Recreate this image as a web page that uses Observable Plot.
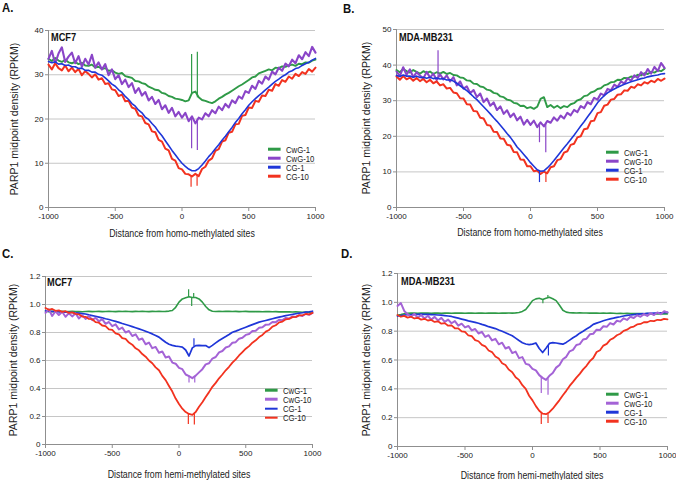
<!DOCTYPE html>
<html><head><meta charset="utf-8">
<script src="https://cdn.jsdelivr.net/npm/d3@7"></script>
<script src="https://cdn.jsdelivr.net/npm/@observablehq/plot@0.6"></script>
<style>
body{margin:0;background:#fff;}
#fig{position:relative;width:676px;height:480px;overflow:hidden;background:#fff;
 font-family:"Liberation Sans",Arial,sans-serif;color:#222;}
.svgbox{position:absolute;width:338px;height:240px;}
.t{position:absolute;white-space:nowrap;line-height:1;transform-origin:0 50%;transform:translate(0,-50%) scaleX(0.84);}
.c{transform-origin:50% 50%;transform:translate(-50%,-50%) scaleX(0.84);}
.letter{font-weight:bold;font-size:13.5px;color:#111;}
.cell{font-weight:bold;font-size:11px;color:#111;}
.xl{font-size:10.5px;color:#222;}
.yl{font-size:10.5px;color:#222;transform-origin:50% 50%;transform:translate(-50%,-50%) rotate(-90deg);}
.leg{position:absolute;font-size:8.6px;color:#222;}
.leg .row{position:absolute;left:0;white-space:nowrap;line-height:1;transform-origin:0 50%;transform:translateY(-50%) scaleX(0.9);}
.leg .sw{display:inline-block;width:14px;height:2.6px;vertical-align:middle;margin-right:6px;position:relative;top:-1px;}
</style>
</head><body>
<div id="fig"></div>
<script>
// ---------- data ----------
const seriesNames = ["CwG-1", "CwG-10", "CG-1", "CG-10"];
const distance = [
-1000,-975,-950,-925,-900,-875,-850,-825,
-800,-775,-750,-725,-700,-675,-650,-625,
-600,-575,-550,-525,-500,-475,-450,-425,
-400,-375,-350,-325,-300,-275,-250,-225,
-200,-175,-150,-125,-100,-75,-50,-25,
0,25,50,75,100,125,150,175,
200,225,250,275,300,325,350,375,
400,425,450,475,500,525,550,575,
600,625,650,675,700,725,750,775,
800,825,850,875,900,925,950,975,
1000];
const xTicks = [-1000, -500, 0, 500, 1000];
const yTicksHomo = [0, 10, 20, 30, 40];
const yTicksHomoB = [0, 10, 20, 30, 40, 50];
const yTicksHemi = [0, 0.2, 0.4, 0.6, 0.8, 1.0, 1.2];

// Panel A: MCF7, homo-methylated
const aCwG1 = [33.6,33.1,33.8,33.2,32.9,33.4,32.8,32.6, 32.9,32.4,32.7,32.1,32.0,32.3,31.6,31.8,
 31.3,31.5,30.9,31.0,30.5,30.2,30.4,29.7, 29.5,29.3,28.6,28.5,28.1,27.9,27.3,27.0,
 26.6,26.5,25.9,25.7,25.2,25.0,24.6,24.5, 24.3,24.0,24.2,25.9,26.2,24.9,24.3,24.1,
 23.8,23.6,24.0,24.6,25.0,25.5,25.9,26.4, 26.9,27.4,27.8,28.3,28.8,29.4,29.6,30.3,
 30.6,30.9,31.2,31.0,31.6,31.5,31.9,31.8, 32.1,32.3,32.0,32.5,32.4,32.8,32.7,33.2, 33.4];
const aCwG10 = [33.6,35.4,32.5,34.8,36.2,32.9,34.1,35.0, 32.6,34.2,31.8,33.6,32.3,34.5,31.6,32.8,
 31.2,32.4,29.9,31.2,29.0,29.9,27.9,28.9, 27.2,28.1,25.9,27.0,25.3,26.1,24.2,25.0,
 23.4,24.3,22.2,23.1,21.4,22.5,20.6,21.6, 20.3,21.4,19.5,20.6,19.0,20.3,19.9,21.3,
 20.6,22.0,21.3,22.8,22.0,23.4,22.6,24.2, 23.6,25.1,24.6,26.3,25.9,27.5,26.8,28.6,
 28.0,29.6,28.9,30.7,30.1,31.6,30.9,32.5, 31.9,33.4,32.6,34.4,33.5,35.1,34.2,36.3, 35.0];
const aCG1 = [33.0,32.7,32.9,32.4,32.5,32.1,32.2,31.8, 31.8,31.4,31.5,31.0,31.0,30.6,30.6,30.1,
 29.9,29.3,28.6,27.9,27.4,26.6,26.0,25.1, 24.4,23.5,22.9,22.0,21.4,20.4,19.9,19.0,
 18.2,17.1,16.2,15.1,14.0,12.9,11.9,10.9, 10.0,9.3,8.7,8.3,8.3,8.8,9.6,10.5,
 11.5,12.3,13.3,14.2,15.2,16.1,17.1,18.1, 19.2,20.1,21.2,22.1,23.1,23.9,24.6,25.3,
 25.9,26.6,27.2,27.9,28.5,29.0,29.6,30.0, 30.6,30.9,31.4,31.6,32.1,32.5,32.8,33.3, 33.7];
const aCG10 = [32.3,31.2,32.6,31.5,31.0,32.1,30.8,31.6, 30.6,31.3,29.9,30.8,30.2,29.4,30.1,28.9,
 29.2,27.9,28.1,26.7,26.5,25.2,25.5,24.0, 24.1,22.6,22.3,20.8,20.6,19.1,18.8,17.2,
 17.0,15.3,14.9,13.3,12.9,11.0,10.6,8.9, 8.6,7.6,7.5,7.0,7.6,7.1,8.7,9.2,
 10.6,11.1,12.8,13.2,14.9,15.2,16.9,17.1, 18.8,18.9,20.7,20.9,22.6,22.5,24.1,23.9,
 25.3,25.2,26.6,26.4,27.9,27.5,28.8,28.4, 29.6,29.1,30.2,29.7,30.6,30.2,31.3,30.7, 31.6];
const aSpikeSeries = ["CwG-1","CwG-1","CwG-10","CwG-10","CG-10","CG-10"];
const aSpikeX  = [72, 115, 72, 115, 68, 113];
const aSpikeY1 = [25.5, 24.8, 20.3, 20.0, 7.2, 7.3];
const aSpikeY2 = [34.6, 35.1, 13.3, 12.9, 4.6, 4.8];

// Panel B: MDA-MB231, homo-methylated
const bCwG1 = [38.6,38.0,38.9,38.3,37.9,38.6,38.1,37.6, 38.3,37.8,38.2,37.5,38.0,37.6,38.1,37.5,
 37.8,37.2,37.1,36.5,36.4,35.7,35.6,34.8, 34.7,34.0,33.8,33.1,32.9,32.2,32.0,31.2,
 31.0,30.3,30.1,29.4,29.2,28.5,28.6,27.9, 28.2,27.7,28.3,30.5,31.0,28.2,28.8,28.0,
 28.6,27.9,28.5,28.2,29.0,29.3,30.1,30.4, 31.3,31.5,32.3,32.6,33.3,33.5,34.3,34.6,
 35.2,35.3,35.9,35.8,36.4,36.3,36.8,36.7, 37.3,37.1,37.7,37.5,38.1,37.9,38.5,38.3, 39.0];
const bCwG10 = [38.2,36.9,39.4,37.3,38.8,36.6,38.0,37.1, 36.2,38.1,36.5,37.6,35.8,37.4,36.0,37.1,
 35.4,36.6,34.3,35.4,33.4,34.0,32.1,33.0, 31.0,32.0,29.6,30.6,28.6,29.5,27.4,28.4,
 26.3,27.3,25.4,26.4,24.5,25.5,23.3,24.6, 23.2,24.4,22.6,23.9,22.8,24.3,23.8,25.3,
 24.4,25.8,25.0,26.6,25.9,27.4,26.8,28.5, 27.9,29.6,29.0,30.8,30.3,32.0,31.5,33.3,
 32.9,34.5,33.9,35.4,34.8,36.3,35.6,37.1, 36.4,38.0,37.1,38.9,37.6,39.5,38.3,40.6, 39.2];
const bCG1 = [37.1,36.8,37.2,36.9,36.9,36.6,36.9,36.5, 36.6,36.3,36.6,36.2,36.4,36.1,36.2,35.8,
 35.9,35.5,34.9,34.2,33.5,32.8,32.0,31.1, 30.3,29.3,28.3,27.3,26.3,25.2,24.2,23.1,
 22.0,20.8,19.7,18.4,17.0,16.0,14.9,13.8, 12.6,11.6,10.6,10.2,10.3,11.1,12.1,13.2,
 14.4,15.6,16.8,17.9,19.1,20.3,21.6,22.9, 24.1,25.4,26.7,28.0,29.4,30.5,31.4,32.2,
 32.8,33.3,33.8,34.2,34.6,35.0,35.3,35.6, 35.9,36.2,36.4,36.7,36.9,37.1,37.2,37.5, 37.6];
const bCG10 = [36.8,35.9,36.9,36.0,36.5,35.6,36.4,35.5, 36.1,35.2,35.9,34.9,35.4,34.3,34.6,33.4,
 33.6,32.3,32.1,30.7,30.6,29.0,28.9,27.1, 27.0,25.2,25.0,23.2,23.0,21.3,21.2,19.4,
 19.3,17.6,17.4,15.6,15.5,13.5,13.4,11.6, 11.6,10.2,10.4,9.4,10.1,9.6,11.3,11.6,
 13.3,13.6,15.4,15.8,17.6,17.9,19.7,20.0, 22.0,22.2,24.2,24.4,26.5,26.8,28.6,28.9,
 30.3,30.5,31.7,31.8,32.9,32.8,33.9,33.6, 34.6,34.3,35.2,34.8,35.6,35.2,36.1,35.6, 36.2];
const bSpikeSeries = ["CwG-10","CwG-10","CwG-10","CG-1","CG-10"];
const bSpikeX  = [-690, 67, 114, 67, 115];
const bSpikeY1 = [36.5, 23.5, 23.5, 10.3, 9.8];
const bSpikeY2 = [44.0, 18.2, 15.4, 7.0, 7.0];

// Panel C: MCF7, hemi-methylated
const cCwG1 = [0.952,0.948,0.951,0.949,0.950,0.952,0.949,0.950, 0.951,0.949,0.950,0.948,0.950,0.951,0.949,0.950,
 0.951,0.949,0.950,0.952,0.950,0.949,0.951,0.950, 0.952,0.950,0.949,0.951,0.950,0.952,0.950,0.949,
 0.951,0.950,0.952,0.950,0.951,0.953,0.957,0.980, 1.017,1.040,1.048,1.056,1.050,1.050,1.040,1.017,
 0.986,0.962,0.952,0.950,0.951,0.950,0.952,0.951, 0.950,0.951,0.949,0.950,0.951,0.949,0.950,0.949,
 0.950,0.948,0.949,0.950,0.948,0.949,0.947,0.948, 0.947,0.948,0.946,0.947,0.946,0.945,0.946,0.945, 0.945];
const cCwG10 = [0.940,0.965,0.918,0.952,0.925,0.948,0.912,0.938, 0.915,0.937,0.900,0.924,0.897,0.918,0.888,0.905,
 0.880,0.896,0.862,0.875,0.845,0.858,0.822,0.835, 0.800,0.811,0.775,0.787,0.748,0.757,0.716,0.728,
 0.688,0.697,0.655,0.664,0.622,0.628,0.585,0.577, 0.547,0.538,0.500,0.488,0.474,0.492,0.515,0.538,
 0.572,0.580,0.614,0.625,0.658,0.668,0.693,0.701, 0.727,0.731,0.756,0.762,0.783,0.789,0.810,0.813,
 0.834,0.838,0.856,0.857,0.875,0.874,0.891,0.888, 0.904,0.900,0.915,0.910,0.924,0.918,0.934,0.926, 0.940];
const cCG1 = [0.955,0.952,0.950,0.951,0.948,0.947,0.946,0.944, 0.943,0.941,0.938,0.935,0.932,0.926,0.921,0.916,
 0.910,0.904,0.898,0.893,0.886,0.879,0.872,0.864, 0.857,0.850,0.842,0.834,0.826,0.818,0.809,0.800,
 0.790,0.779,0.767,0.748,0.730,0.716,0.708,0.703, 0.700,0.696,0.675,0.632,0.690,0.706,0.708,0.706,
 0.707,0.692,0.708,0.726,0.743,0.757,0.771,0.786, 0.802,0.810,0.819,0.829,0.838,0.847,0.856,0.865,
 0.874,0.880,0.886,0.892,0.898,0.904,0.910,0.915, 0.921,0.925,0.929,0.934,0.938,0.941,0.945,0.948, 0.952];
const cCG10 = [0.975,0.962,0.968,0.955,0.958,0.947,0.952,0.940, 0.944,0.933,0.930,0.914,0.912,0.897,0.895,0.874,
 0.870,0.850,0.846,0.823,0.818,0.793,0.786,0.760, 0.754,0.728,0.713,0.687,0.673,0.646,0.627,0.600,
 0.580,0.551,0.530,0.490,0.460,0.418,0.378,0.328, 0.290,0.256,0.232,0.218,0.212,0.232,0.270,0.302,
 0.340,0.374,0.412,0.440,0.473,0.500,0.530,0.555, 0.585,0.608,0.636,0.660,0.684,0.703,0.727,0.744,
 0.767,0.783,0.806,0.818,0.842,0.852,0.872,0.878, 0.894,0.897,0.910,0.912,0.922,0.923,0.932,0.930, 0.940];
const cSpikeSeries = ["CwG-1","CwG-1","CwG-1","CG-1","CwG-10","CwG-10","CG-10","CG-10"];
const cSpikeX  = [72, 95, 110, 112, 75, 118, 70, 115];
const cSpikeY1 = [1.05, 1.05, 1.05, 0.70, 0.49, 0.48, 0.215, 0.215];
const cSpikeY2 = [1.105, 0.985, 1.078, 0.755, 0.44, 0.44, 0.143, 0.140];

// Panel D: MDA-MB231, hemi-methylated
const dCwG1 = [0.910,0.915,0.921,0.924,0.925,0.926,0.924,0.925, 0.926,0.925,0.924,0.926,0.925,0.924,0.926,0.925,
 0.924,0.925,0.926,0.925,0.924,0.926,0.925,0.924, 0.925,0.926,0.924,0.925,0.926,0.925,0.924,0.926,
 0.925,0.926,0.925,0.927,0.930,0.937,0.950,0.980, 1.012,1.024,1.028,1.020,1.028,1.035,1.025,1.012,
 0.980,0.945,0.932,0.928,0.927,0.926,0.927,0.926, 0.926,0.925,0.926,0.925,0.924,0.925,0.924,0.925,
 0.924,0.923,0.924,0.923,0.924,0.922,0.923,0.922, 0.922,0.921,0.922,0.921,0.920,0.921,0.920,0.920, 0.920];
const dCwG10 = [0.975,0.995,0.940,0.918,0.900,0.920,0.893,0.912, 0.888,0.907,0.880,0.899,0.874,0.892,0.865,0.880,
 0.855,0.870,0.838,0.852,0.826,0.836,0.805,0.815, 0.784,0.795,0.760,0.772,0.736,0.747,0.709,0.720,
 0.680,0.690,0.648,0.658,0.613,0.620,0.573,0.567, 0.538,0.528,0.495,0.476,0.462,0.490,0.510,0.547,
 0.566,0.605,0.622,0.660,0.670,0.704,0.710,0.742, 0.748,0.778,0.782,0.810,0.808,0.834,0.830,0.856,
 0.846,0.872,0.866,0.889,0.878,0.900,0.891,0.910, 0.900,0.918,0.906,0.925,0.912,0.930,0.918,0.938, 0.930];
const dCG1 = [0.905,0.908,0.912,0.914,0.915,0.917,0.916,0.918, 0.917,0.916,0.915,0.914,0.912,0.911,0.908,0.905,
 0.902,0.896,0.890,0.884,0.878,0.871,0.866,0.861, 0.855,0.847,0.840,0.831,0.825,0.818,0.808,0.799,
 0.789,0.778,0.768,0.752,0.735,0.720,0.711,0.707, 0.710,0.718,0.680,0.652,0.682,0.715,0.720,0.718,
 0.714,0.710,0.722,0.738,0.754,0.768,0.786,0.800, 0.815,0.829,0.847,0.856,0.864,0.872,0.879,0.885,
 0.890,0.896,0.900,0.905,0.909,0.912,0.915,0.918, 0.920,0.921,0.923,0.924,0.925,0.926,0.927,0.928, 0.930];
const dCG10 = [0.912,0.900,0.906,0.894,0.900,0.888,0.893,0.880, 0.886,0.874,0.878,0.864,0.868,0.852,0.856,0.838,
 0.840,0.820,0.820,0.798,0.795,0.770,0.765,0.738, 0.730,0.705,0.695,0.666,0.655,0.624,0.610,0.578,
 0.565,0.533,0.515,0.480,0.462,0.425,0.400,0.352, 0.320,0.280,0.248,0.228,0.224,0.238,0.262,0.292,
 0.322,0.355,0.386,0.420,0.448,0.478,0.504,0.535, 0.560,0.592,0.614,0.655,0.668,0.700,0.712,0.740,
 0.752,0.772,0.782,0.802,0.810,0.826,0.832,0.847, 0.850,0.862,0.862,0.872,0.870,0.879,0.876,0.885, 0.882];
const dSpikeSeries = ["CwG-1","CwG-1","CG-1","CwG-10","CwG-10","CG-10","CG-10"];
const dSpikeX  = [77, 114, 118, 65, 115, 65, 115];
const dSpikeY1 = [1.02, 1.03, 0.70, 0.48, 0.47, 0.235, 0.225];
const dSpikeY2 = [0.99, 1.048, 0.628, 0.367, 0.356, 0.152, 0.159];

// ---------- drawing ----------
const fig = document.getElementById("fig");

const panels = [
  {letter:"A.", cell:"MCF7", xlabel:"Distance from homo-methylated sites",
   values:[aCwG1,aCwG10,aCG1,aCG10], spikes:[aSpikeSeries,aSpikeX,aSpikeY1,aSpikeY2],
   yTicks:yTicksHomo, ymax:40, fmt:d=>String(d),
   left:0, top:0, ml:48, mr:23, mt:30, mb:33,
   purple:"#8a45c8", order:["CwG-1","CwG-10","CG-10","CG-1"],
   widths:{"CwG-1":1.9,"CwG-10":2.1,"CG-1":1.6,"CG-10":2.0},
   letterPos:[2,7.5], cellPos:[51,36.5], xlPos:[181.5,233], ylPos:[14,118.5],
   legPos:[268,150,9]},
  {letter:"B.", cell:"MDA-MB231", xlabel:"Distance from homo-methylated sites",
   values:[bCwG1,bCwG10,bCG1,bCG10], spikes:[bSpikeSeries,bSpikeX,bSpikeY1,bSpikeY2],
   yTicks:yTicksHomoB, ymax:50, fmt:d=>String(d),
   left:338, top:0, ml:58, mr:12, mt:29, mb:33,
   purple:"#8a45c8", order:["CwG-1","CwG-10","CG-10","CG-1"],
   widths:{"CwG-1":1.9,"CwG-10":2.1,"CG-1":1.6,"CG-10":2.0},
   letterPos:[343,8.5], cellPos:[399,37], xlPos:[530,232], ylPos:[366,118],
   legPos:[606,152.5,9]},
  {letter:"C.", cell:"MCF7", xlabel:"Distance from hemi-methylated sites",
   values:[cCwG1,cCwG10,cCG1,cCG10], spikes:[cSpikeSeries,cSpikeX,cSpikeY1,cSpikeY2],
   yTicks:yTicksHemi, ymax:1.2, fmt:d=>d===0?"0":d.toFixed(1),
   left:0, top:240, ml:45, mr:26, mt:36, mb:36,
   purple:"#a463d6", order:["CwG-1","CG-1","CwG-10","CG-10"],
   widths:{"CwG-1":1.6,"CwG-10":2.0,"CG-1":1.7,"CG-10":1.8},
   letterPos:[2,254], cellPos:[47,281.5], xlPos:[178.5,474], ylPos:[13,360],
   legPos:[265,390.5,9.3]},
  {letter:"D.", cell:"MDA-MB231", xlabel:"Distance from hemi-methylated sites",
   values:[dCwG1,dCwG10,dCG1,dCG10], spikes:[dSpikeSeries,dSpikeX,dSpikeY1,dSpikeY2],
   yTicks:yTicksHemi, ymax:1.2, fmt:d=>d===0?"0":d.toFixed(1),
   left:338, top:240, ml:59, mr:9, mt:33, mb:34,
   purple:"#a463d6", order:["CwG-1","CG-1","CwG-10","CG-10"],
   widths:{"CwG-1":1.6,"CwG-10":2.0,"CG-1":1.7,"CG-10":1.8},
   letterPos:[341,253.5], cellPos:[401,280.5], xlPos:[532,475], ylPos:[366,360],
   legPos:[606,394.5,9]}
];

function addText(cls, txt, x, y) {
  const d = document.createElement("div");
  d.className = "t " + cls;
  d.textContent = txt;
  d.style.left = x + "px";
  d.style.top = y + "px";
  fig.appendChild(d);
  return d;
}

for (const p of panels) {
  const colors = {"CwG-1":"#2f9a47","CwG-10":p.purple,"CG-1":"#1f36d8","CG-10":"#f2321f"};
  const rows = [];
  seriesNames.forEach((s, k) => {
    p.values[k].forEach((v, i) => rows.push({series: s, x: distance[i], y: v}));
  });
  const [ss, sx, sy1, sy2] = p.spikes;
  const spikes = ss.map((s, i) => ({series: s, x: sx[i], y1: sy1[i], y2: sy2[i]}));

  const marks = [
    Plot.gridY(p.yTicks.filter(t => t > 0), {stroke: "#c6c6c6", strokeOpacity: 1, strokeWidth: 1}),
    Plot.ruleX([-1000], {stroke: "#8f8f8f"}),
    Plot.ruleY([0], {stroke: "#8f8f8f"}),
    Plot.axisY(p.yTicks, {tickSize: 3, tickPadding: 2, tickFormat: p.fmt, stroke: "#8f8f8f", label: null, fontSize: 8}),
    Plot.axisX(xTicks, {tickSize: 4, tickPadding: 2, tickFormat: d => String(d), stroke: "#8f8f8f", label: null, fontSize: 8})
  ];
  for (const s of p.order) {
    marks.push(Plot.line(rows.filter(r => r.series === s), {x: "x", y: "y", stroke: colors[s], strokeWidth: p.widths[s], strokeLinejoin: "round"}));
    const sp = spikes.filter(r => r.series === s);
    if (sp.length) marks.push(Plot.ruleX(sp, {x: "x", y1: "y1", y2: "y2", stroke: colors[s], strokeWidth: 1.2}));
  }

  const svg = Plot.plot({
    width: 338, height: 240,
    marginLeft: p.ml, marginRight: p.mr, marginTop: p.mt, marginBottom: p.mb,
    style: {fontFamily: '"Liberation Sans",Arial,sans-serif', fontSize: "8px", color: "#222", background: "transparent", overflow: "visible"},
    x: {domain: [-1000, 1000]},
    y: {domain: [0, p.ymax]},
    marks
  });
  const box = document.createElement("div");
  box.className = "svgbox";
  box.style.left = p.left + "px";
  box.style.top = p.top + "px";
  box.appendChild(svg);
  fig.appendChild(box);

  addText("letter", p.letter, p.letterPos[0], p.letterPos[1]);
  addText("cell", p.cell, p.cellPos[0], p.cellPos[1]);
  addText("xl c", p.xlabel, p.xlPos[0], p.xlPos[1]);
  addText("yl", "PARP1 midpoint density (RPKM)", p.ylPos[0], p.ylPos[1]);

  const leg = document.createElement("div");
  leg.className = "leg";
  leg.style.left = p.legPos[0] + "px";
  leg.style.top = p.legPos[1] + "px";
  seriesNames.forEach((s, k) => {
    const r = document.createElement("div");
    r.className = "row";
    r.style.top = (k * p.legPos[2]) + "px";
    const sw = document.createElement("span");
    sw.className = "sw";
    sw.style.background = colors[s];
    r.appendChild(sw);
    r.appendChild(document.createTextNode(s));
    leg.appendChild(r);
  });
  fig.appendChild(leg);
}
</script>
</body></html>
